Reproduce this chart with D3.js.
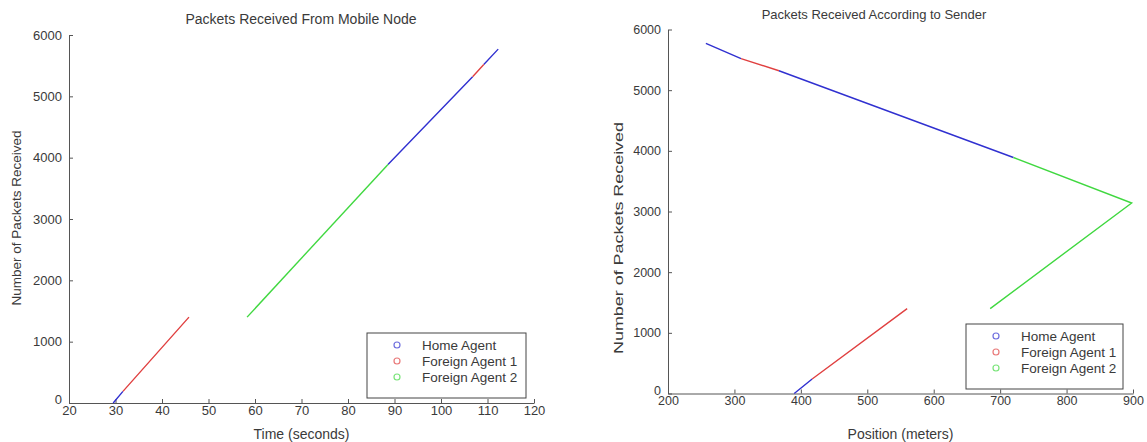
<!DOCTYPE html>
<html><head><meta charset="utf-8">
<script src="https://cdn.jsdelivr.net/npm/d3@7"></script>
<style>
body{margin:0;background:#fff;}
svg text{font-family:"Liberation Sans",Arial,sans-serif;fill:#3a3a3a;}
</style></head>
<body>
<svg id="c" width="1147" height="442"></svg>
<script>
// ---------- data ----------
const seriesNames = ["Home Agent", "Foreign Agent 1", "Foreign Agent 2"];

// Left chart: time (s) vs packets received (null = gap)
const timeTicks = [20, 30, 40, 50, 60, 70, 80, 90, 100, 110, 120];
const packetTicks = [0, 1000, 2000, 3000, 4000, 5000, 6000];
const homeTime    = [29.5, 31.6, null, 88.6, 106.8, null, 109.2, 112.3];
const homePacketsT= [0,    190,  null, 3890, 5320,  null, 5520,  5770];
const fa1Time     = [31.6, 45.8, null, 106.8, 109.2];
const fa1PacketsT = [190,  1400, null, 5320,  5520];
const fa2Time     = [58.3, 88.6];
const fa2PacketsT = [1400, 3890];

// Right chart: position (m) vs packets received
const posTicks = [200, 300, 400, 500, 600, 700, 800, 900];
const homePos     = [390, 417, null, 720, 367, null, 310, 257];
const homePacketsP= [0,   240, null, 3890, 5320, null, 5520, 5770];
const fa1Pos      = [417, 560, null, 367, 310];
const fa1PacketsP = [240, 1400, null, 5320, 5520];
const fa2Pos      = [685, 898, 720];
const fa2PacketsP = [1400, 3140, 3890];

const colors = ["#3030d0", "#e04040", "#40d840"];

const svg = d3.select("#c");

function zip(xs, ys){ return xs.map((x,i)=>[x, ys[i]]); }

function drawPanel(cfg){
  const g = svg.append("g");
  const x = d3.scaleLinear().domain(cfg.xDomain).range(cfg.xRange);
  const y = d3.scaleLinear().domain([0, 6000]).range(cfg.yRange);

  // axes
  const ax = g.append("g").attr("transform", `translate(0,${cfg.yRange[0]})`)
    .call(d3.axisBottom(x).tickValues(cfg.xTicks).tickFormat(d3.format("d"))
      .tickSizeInner(-4).tickSizeOuter(0).tickPadding(3));
  const ay = g.append("g").attr("transform", `translate(${cfg.xRange[0]},0)`)
    .call(d3.axisLeft(y).tickValues(packetTicks).tickFormat(d3.format("d"))
      .tickSizeInner(-4).tickSizeOuter(0).tickPadding(7));
  [ax, ay].forEach(a=>{
    a.select(".domain").attr("stroke", "#555");
    a.selectAll(".tick line").attr("stroke", "#555");
    a.selectAll(".tick text").attr("font-size", cfg.tickFont).attr("fill", "#333");
  });
  ay.selectAll(".tick text").filter(d=>d===0).attr("dy", "0.05em");

  // lines
  const line = d3.line().defined(d=>d[0]!==null).x(d=>x(d[0])).y(d=>y(d[1]));
  cfg.series.forEach((s,i)=>{
    g.append("path").attr("d", line(zip(s[0], s[1])))
      .attr("fill","none").attr("stroke", colors[i]).attr("stroke-width", 1.4);
  });

  // title & labels
  g.append("text").attr("x", cfg.titleX).attr("y", cfg.titleY).attr("text-anchor","middle")
    .attr("font-size", cfg.titleFont).text(cfg.title);
  g.append("text").attr("x", (cfg.xRange[0]+cfg.xRange[1])/2).attr("y", 439)
    .attr("text-anchor","middle").attr("font-size", 14).text(cfg.xLabel);
  const yl = g.append("text").attr("transform", `translate(${cfg.yLabelX},${cfg.yLabelY}) rotate(-90)`)
    .attr("text-anchor","middle").attr("font-size", cfg.yLabelFont).text("Number of Packets Received");
  if (cfg.yLabelLen) yl.attr("textLength", cfg.yLabelLen).attr("lengthAdjust", "spacingAndGlyphs");

  // legend
  const L = cfg.legend;
  g.append("rect").attr("x", L.x).attr("y", L.y).attr("width", L.w).attr("height", L.h)
    .attr("fill","#fff").attr("stroke","#444").attr("stroke-width",1);
  seriesNames.forEach((n,i)=>{
    const cy = L.y + 12 + i*16;
    g.append("circle").attr("cx", L.x + 30).attr("cy", cy).attr("r", 3)
      .attr("fill","none").attr("stroke", colors[i]).attr("stroke-opacity",0.7).attr("stroke-width",1.2);
    g.append("text").attr("x", L.x + 55).attr("y", cy + 5).attr("font-size", 13.5).text(n);
  });
}

drawPanel({
  xDomain:[20,120], xRange:[69,534], yRange:[403,35], xTicks: timeTicks,
  tickFont: 13, title:"Packets Received From Mobile Node", titleX:301, titleY:24, titleFont:14,
  xLabel:"Time (seconds)", yLabelX:21, yLabelY:218, yLabelFont:13.5,
  series:[[homeTime,homePacketsT],[fa1Time,fa1PacketsT],[fa2Time,fa2PacketsT]],
  legend:{x:367,y:333,w:159,h:65}
});
drawPanel({
  xDomain:[200,900], xRange:[668,1133], yRange:[393.5,29.5], xTicks: posTicks,
  tickFont: 12.5, title:"Packets Received According to Sender", titleX:874, titleY:19, titleFont:13,
  xLabel:"Position (meters)", yLabelX:623, yLabelY:238, yLabelFont:13.5, yLabelLen:232,
  series:[[homePos,homePacketsP],[fa1Pos,fa1PacketsP],[fa2Pos,fa2PacketsP]],
  legend:{x:966,y:324,w:157,h:65}
});
</script>
</body></html>
